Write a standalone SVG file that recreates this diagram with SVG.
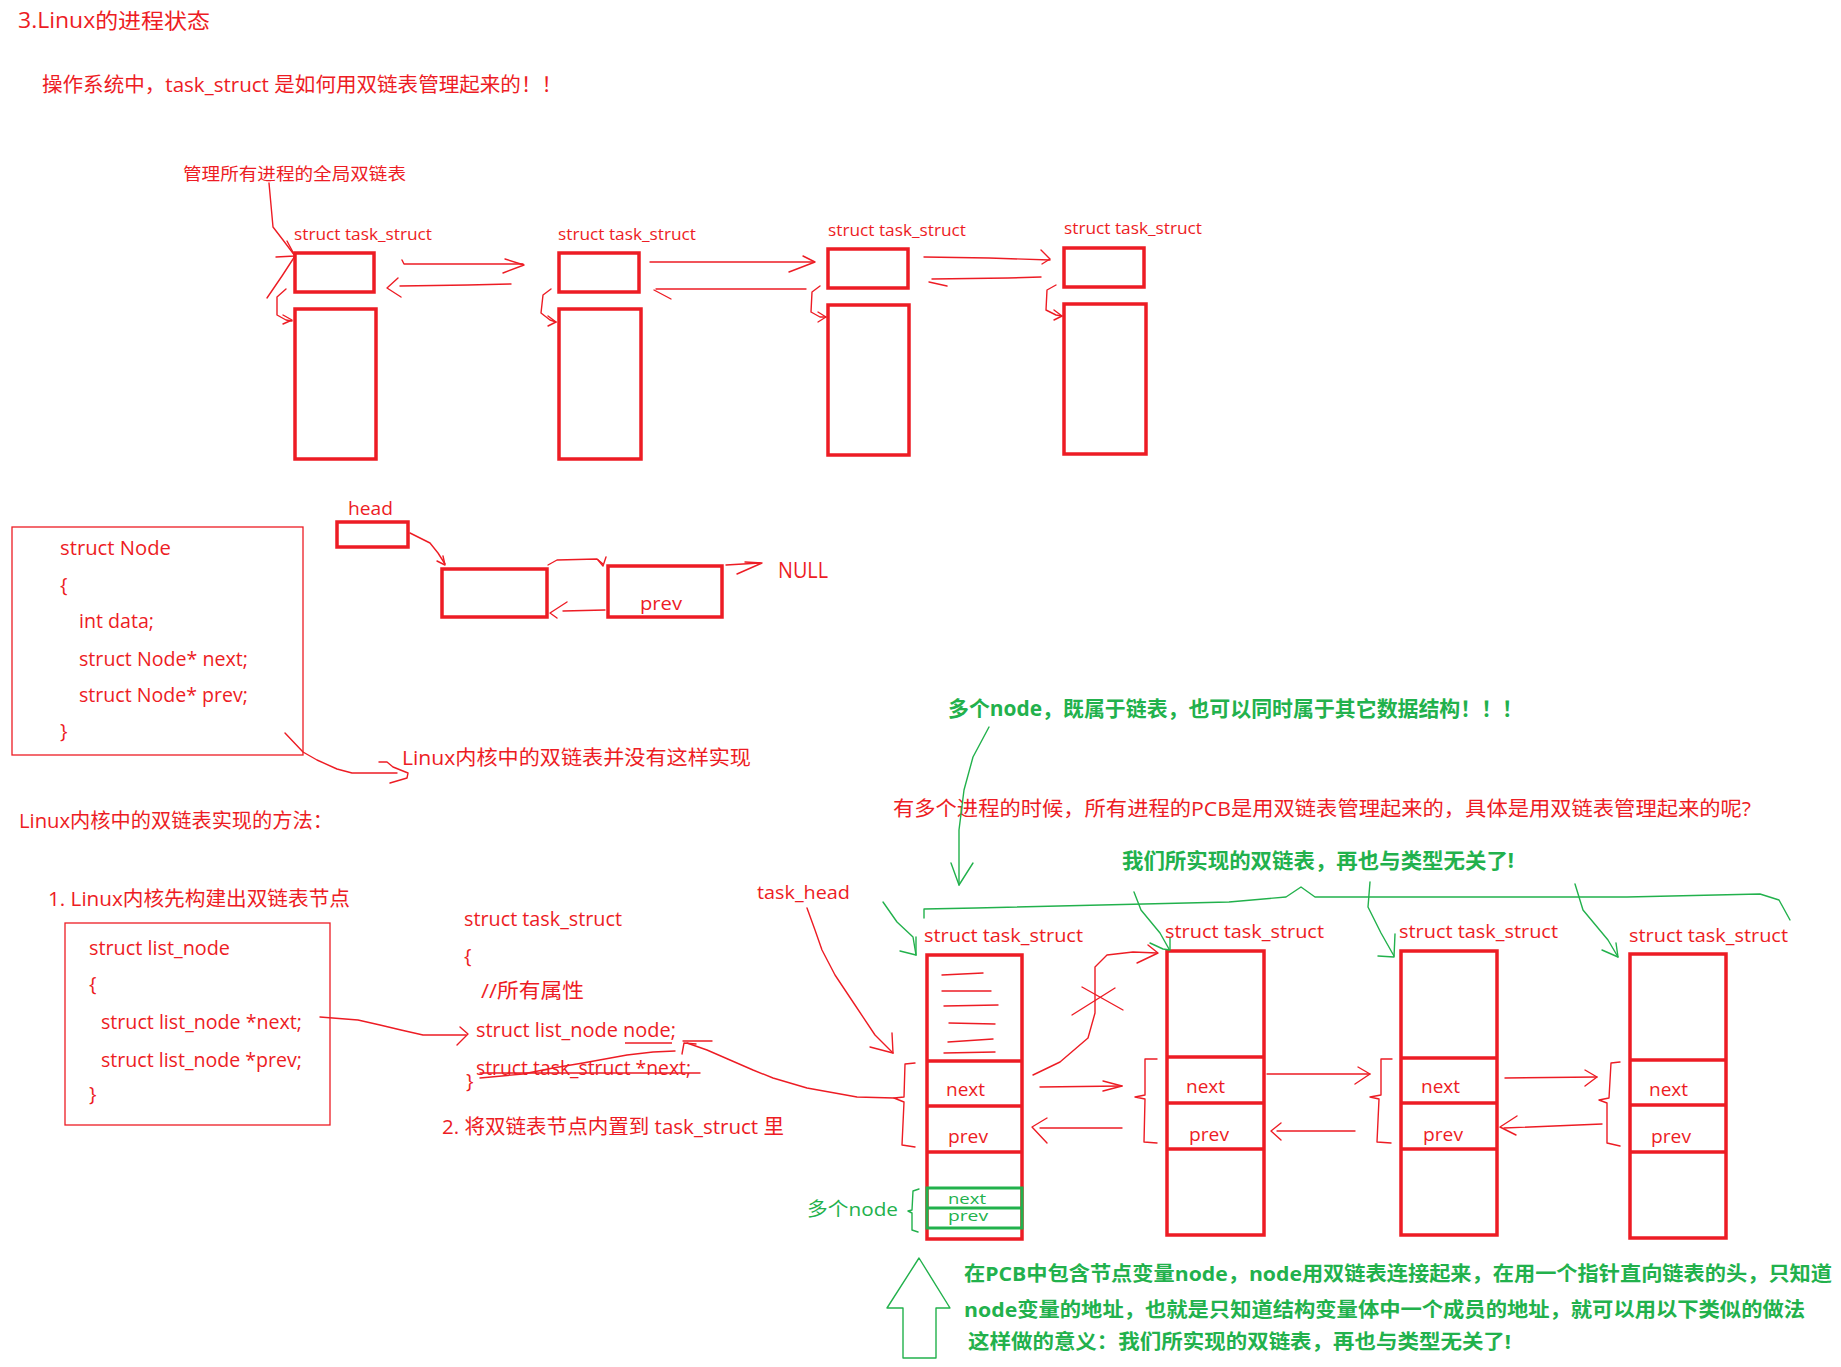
<svg xmlns="http://www.w3.org/2000/svg" width="1841" height="1367" viewBox="0 0 1841 1367">
<style>
text{font-family:"Open Sans","Noto Sans CJK SC",sans-serif;}
.r{fill:#ED1C24;}
.g{fill:#22B14C;font-weight:bold;}
.gn{fill:#22B14C;}
.box{fill:none;stroke:#ED1C24;stroke-width:3.5;}
.gbox{fill:none;stroke:#22B14C;stroke-width:3;}
.thin{fill:none;stroke:#ED1C24;stroke-width:1.4;stroke-linecap:round;stroke-linejoin:round;}
.gl{fill:none;stroke:#22B14C;stroke-width:1.4;stroke-linecap:round;stroke-linejoin:round;}
.cr{fill:none;stroke:#ED1C24;stroke-width:1.4;}
</style>
<rect x="0" y="0" width="1841" height="1367" fill="#ffffff"/>

<g id="headings">
<text class="r" x="18" y="28" font-size="21" textLength="192" lengthAdjust="spacingAndGlyphs">3.Linux的进程状态</text>
<text class="r" x="42" y="92" font-size="20" textLength="520" lengthAdjust="spacingAndGlyphs">操作系统中，task_struct 是如何用双链表管理起来的！！</text>
<text class="r" x="183" y="180" font-size="17" textLength="223" lengthAdjust="spacingAndGlyphs">管理所有进程的全局双链表</text>
</g>

<g id="top-struct-1">
<text class="r" x="294" y="240" font-size="16" textLength="138" lengthAdjust="spacingAndGlyphs">struct task_struct</text>
<rect class="box" x="295" y="253" width="79" height="39"/>
<rect class="box" x="295" y="309" width="81" height="150"/>
</g>
<g id="top-struct-2">
<text class="r" x="558" y="240" font-size="16" textLength="138" lengthAdjust="spacingAndGlyphs">struct task_struct</text>
<rect class="box" x="559" y="253" width="80" height="39"/>
<rect class="box" x="559" y="309" width="82" height="150"/>
</g>
<g id="top-struct-3">
<text class="r" x="828" y="236" font-size="16" textLength="138" lengthAdjust="spacingAndGlyphs">struct task_struct</text>
<rect class="box" x="828" y="249" width="80" height="39"/>
<rect class="box" x="828" y="305" width="81" height="150"/>
</g>
<g id="top-struct-4">
<text class="r" x="1064" y="234" font-size="16" textLength="138" lengthAdjust="spacingAndGlyphs">struct task_struct</text>
<rect class="box" x="1064" y="248" width="80" height="39"/>
<rect class="box" x="1064" y="304" width="82" height="150"/>
</g>

<g id="node-code">
<rect x="12" y="527" width="291" height="228" fill="none" stroke="#ED1C24" stroke-width="1.3"/>
<text class="r" x="60" y="555" font-size="20" textLength="111" lengthAdjust="spacingAndGlyphs">struct Node</text>
<text class="r" x="60" y="592" font-size="20">{</text>
<text class="r" x="79" y="628" font-size="20" textLength="75" lengthAdjust="spacingAndGlyphs">int data;</text>
<text class="r" x="79" y="666" font-size="20" textLength="169" lengthAdjust="spacingAndGlyphs">struct Node* next;</text>
<text class="r" x="79" y="702" font-size="20" textLength="169" lengthAdjust="spacingAndGlyphs">struct Node* prev;</text>
<text class="r" x="60" y="738" font-size="20">}</text>
</g>

<g id="head">
<text class="r" x="348" y="515" font-size="19" textLength="45" lengthAdjust="spacingAndGlyphs">head</text>
<rect class="box" x="337" y="522" width="71" height="25"/>
</g>
<g id="node-a">
<rect class="box" x="442" y="569" width="105" height="48"/>
</g>
<g id="node-b">
<rect class="box" x="608" y="566" width="114" height="51"/>
<text class="r" x="640" y="610" font-size="19" textLength="42" lengthAdjust="spacingAndGlyphs">prev</text>
</g>
<g id="null">
<text class="r" x="778" y="578" font-size="21" textLength="50" lengthAdjust="spacingAndGlyphs">NULL</text>
</g>

<g id="notes-mid">
<text class="r" x="402" y="765" font-size="20" textLength="349" lengthAdjust="spacingAndGlyphs">Linux内核中的双链表并没有这样实现</text>
<text class="r" x="19" y="828" font-size="20" textLength="314" lengthAdjust="spacingAndGlyphs">Linux内核中的双链表实现的方法：</text>
<text class="r" x="48" y="906" font-size="20" textLength="302" lengthAdjust="spacingAndGlyphs">1. Linux内核先构建出双链表节点</text>
<text class="r" x="442" y="1134" font-size="20" textLength="342" lengthAdjust="spacingAndGlyphs">2. 将双链表节点内置到 task_struct 里</text>
</g>

<g id="list-node-code">
<rect x="65" y="923" width="265" height="202" fill="none" stroke="#ED1C24" stroke-width="1.3"/>
<text class="r" x="89" y="955" font-size="20" textLength="141" lengthAdjust="spacingAndGlyphs">struct list_node</text>
<text class="r" x="89" y="991" font-size="20">{</text>
<text class="r" x="101" y="1029" font-size="20" textLength="201" lengthAdjust="spacingAndGlyphs">struct list_node *next;</text>
<text class="r" x="101" y="1067" font-size="20" textLength="201" lengthAdjust="spacingAndGlyphs">struct list_node *prev;</text>
<text class="r" x="89" y="1101" font-size="20">}</text>
</g>

<g id="task-struct-code">
<text class="r" x="464" y="926" font-size="20" textLength="158" lengthAdjust="spacingAndGlyphs">struct task_struct</text>
<text class="r" x="464" y="963" font-size="20">{</text>
<text class="r" x="481" y="998" font-size="20" textLength="103" lengthAdjust="spacingAndGlyphs">//所有属性</text>
<text class="r" x="476" y="1037" font-size="20" textLength="200" lengthAdjust="spacingAndGlyphs">struct list_node node;</text>
<line class="cr" x1="625" y1="1043" x2="672" y2="1043"/>
<text class="r" x="476" y="1075" font-size="20" textLength="215" lengthAdjust="spacingAndGlyphs">struct task_struct *next;</text>
<polyline class="thin" points="480,1073 700,1073"/>
<polyline class="thin" points="675,1051 653,1052 627,1055 583,1063 553,1068 523,1074 480,1078"/>
<text class="r" x="466" y="1088" font-size="20">}</text>
</g>

<g id="task-head">
<text class="r" x="757" y="899" font-size="19" textLength="93" lengthAdjust="spacingAndGlyphs">task_head</text>
</g>

<g id="green-notes">
<text class="g" x="948" y="716" font-size="21" textLength="575" lengthAdjust="spacingAndGlyphs">多个node，既属于链表，也可以同时属于其它数据结构！！！</text>
<text class="r" x="893" y="816" font-size="20" textLength="858" lengthAdjust="spacingAndGlyphs">有多个进程的时候，所有进程的PCB是用双链表管理起来的，具体是用双链表管理起来的呢?</text>
<text class="g" x="1122" y="868" font-size="21" textLength="392" lengthAdjust="spacingAndGlyphs">我们所实现的双链表，再也与类型无关了!</text>
<text class="g" x="964" y="1281" font-size="20" textLength="868" lengthAdjust="spacingAndGlyphs">在PCB中包含节点变量node，node用双链表连接起来，在用一个指针直向链表的头，只知道</text>
<text class="g" x="964" y="1317" font-size="20" textLength="841" lengthAdjust="spacingAndGlyphs">node变量的地址，也就是只知道结构变量体中一个成员的地址，就可以用以下类似的做法</text>
<text class="g" x="968" y="1349" font-size="20" textLength="543" lengthAdjust="spacingAndGlyphs">这样做的意义：我们所实现的双链表，再也与类型无关了!</text>
</g>

<g id="pcb-1">
<text class="r" x="924" y="942" font-size="18" textLength="159" lengthAdjust="spacingAndGlyphs">struct task_struct</text>
<rect class="box" x="927" y="955" width="95" height="284"/>
<line class="box" x1="927" y1="1061" x2="1022" y2="1061"/>
<line class="box" x1="927" y1="1106" x2="1022" y2="1106"/>
<line class="box" x1="927" y1="1152" x2="1022" y2="1152"/>
<polyline class="thin" points="942,975 983,973"/>
<polyline class="thin" points="942,991 991,991"/>
<polyline class="thin" points="944,1006 998,1005"/>
<polyline class="thin" points="949,1023 995,1024"/>
<polyline class="thin" points="948,1042 993,1039"/>
<polyline class="thin" points="944,1053 995,1052"/>
<text class="r" x="946" y="1096" font-size="19" textLength="39" lengthAdjust="spacingAndGlyphs">next</text>
<text class="r" x="948" y="1143" font-size="19" textLength="40" lengthAdjust="spacingAndGlyphs">prev</text>
<rect class="gbox" x="927" y="1188" width="95" height="40"/>
<line class="gbox" x1="927" y1="1208" x2="1022" y2="1208"/>
<text class="gn" x="948" y="1204" font-size="15" textLength="38" lengthAdjust="spacingAndGlyphs">next</text>
<text class="gn" x="948" y="1221" font-size="15" textLength="40" lengthAdjust="spacingAndGlyphs">prev</text>
<text class="gn" x="807" y="1216" font-size="19" textLength="91" lengthAdjust="spacingAndGlyphs">多个node</text>
<polyline class="gl" points="919,1189 913,1191 912,1210 908,1211 912,1213 912,1230 918,1232"/>
</g>
<g id="pcb-2">
<text class="r" x="1165" y="938" font-size="18" textLength="159" lengthAdjust="spacingAndGlyphs">struct task_struct</text>
<rect class="box" x="1167" y="951" width="97" height="284"/>
<line class="box" x1="1167" y1="1057" x2="1264" y2="1057"/>
<line class="box" x1="1167" y1="1103" x2="1264" y2="1103"/>
<line class="box" x1="1167" y1="1149" x2="1264" y2="1149"/>
<text class="r" x="1186" y="1093" font-size="19" textLength="39" lengthAdjust="spacingAndGlyphs">next</text>
<text class="r" x="1189" y="1141" font-size="19" textLength="40" lengthAdjust="spacingAndGlyphs">prev</text>
</g>
<g id="pcb-3">
<text class="r" x="1399" y="938" font-size="18" textLength="159" lengthAdjust="spacingAndGlyphs">struct task_struct</text>
<rect class="box" x="1401" y="951" width="96" height="284"/>
<line class="box" x1="1401" y1="1058" x2="1497" y2="1058"/>
<line class="box" x1="1401" y1="1103" x2="1497" y2="1103"/>
<line class="box" x1="1401" y1="1149" x2="1497" y2="1149"/>
<text class="r" x="1421" y="1093" font-size="19" textLength="39" lengthAdjust="spacingAndGlyphs">next</text>
<text class="r" x="1423" y="1141" font-size="19" textLength="40" lengthAdjust="spacingAndGlyphs">prev</text>
</g>
<g id="pcb-4">
<text class="r" x="1629" y="942" font-size="18" textLength="159" lengthAdjust="spacingAndGlyphs">struct task_struct</text>
<rect class="box" x="1630" y="954" width="96" height="284"/>
<line class="box" x1="1630" y1="1060" x2="1726" y2="1060"/>
<line class="box" x1="1630" y1="1105" x2="1726" y2="1105"/>
<line class="box" x1="1630" y1="1152" x2="1726" y2="1152"/>
<text class="r" x="1649" y="1096" font-size="19" textLength="39" lengthAdjust="spacingAndGlyphs">next</text>
<text class="r" x="1651" y="1143" font-size="19" textLength="40" lengthAdjust="spacingAndGlyphs">prev</text>
</g>

<g id="connectors">
<polyline class="thin" points="269,183 271,205 273,227 283,240 295,256 282,276 267,298"/>
<polyline class="thin" points="287,241 295,256 276,257"/>
<polyline class="thin" points="286,289 277,297 277,315 286,320 292,321"/>
<polyline class="thin" points="283,315 292,320 283,324"/>
<polyline class="thin" points="551,289 543,295 541,313 550,320 556,322"/>
<polyline class="thin" points="548,316 556,322 548,326"/>
<polyline class="thin" points="820,286 812,292 811,312 820,317 826,317"/>
<polyline class="thin" points="818,312 826,317 818,322"/>
<polyline class="thin" points="1056,285 1047,290 1046,310 1056,315 1062,316"/>
<polyline class="thin" points="1054,310 1062,316 1054,320"/>
<polyline class="thin" points="402,260 404,264 523,264"/>
<polyline class="thin" points="505,259 524,265 503,273"/>
<polyline class="thin" points="511,284 468,285 400,286"/>
<polyline class="thin" points="398,278 387,288 401,297"/>
<polyline class="thin" points="650,262 814,262"/>
<polyline class="thin" points="803,256 815,262 789,272"/>
<polyline class="thin" points="806,289 656,289"/>
<polyline class="thin" points="654,290 671,299"/>
<polyline class="thin" points="924,257 989,258 1050,260"/>
<polyline class="thin" points="1041,250 1050,259 1042,264"/>
<polyline class="thin" points="1041,277 1008,278 932,279"/>
<polyline class="thin" points="929,282 947,286"/>
<polyline class="thin" points="410,533 430,543 438,553 445,564"/>
<polyline class="thin" points="437,561 445,565 443,556"/>
<polyline class="thin" points="548,565 557,560 597,559 603,564"/>
<polyline class="thin" points="598,560 603,566 606,557"/>
<polyline class="thin" points="605,610 563,611"/>
<polyline class="thin" points="567,602 550,613 557,618"/>
<polyline class="thin" points="726,565 760,563"/>
<polyline class="thin" points="745,562 762,563 737,574"/>
<polyline class="thin" points="285,733 303,752 317,760 337,769 352,773 397,773"/>
<polyline class="thin" points="379,762 387,762 393,767 408,773 407,778 390,783"/>
<polyline class="thin" points="320,1017 358,1020 380,1025 401,1030 423,1035 466,1035"/>
<polyline class="thin" points="460,1027 468,1034 457,1045"/>
<polyline class="thin" points="683,1041 712,1041"/>
<polyline class="thin" points="687,1043 707,1050 730,1060 753,1070 773,1078 807,1088 857,1097 894,1098"/>
<polyline class="thin" points="682,1054 684,1043 696,1044"/>
<polyline class="thin" points="807,908 815,930 822,950 835,975 855,1005 875,1035 893,1053"/>
<polyline class="thin" points="870,1047 893,1053 892,1033"/>
<polyline class="thin" points="915,1063 905,1064 904,1097 894,1098 904,1102 902,1145 915,1147"/>
<polyline class="thin" points="1157,1059 1145,1059 1145,1095 1135,1097 1145,1099 1144,1142 1157,1143"/>
<polyline class="thin" points="1392,1059 1381,1059 1381,1095 1370,1097 1379,1099 1377,1142 1391,1143"/>
<polyline class="thin" points="1620,1062 1611,1063 1609,1098 1599,1100 1607,1103 1607,1143 1620,1146"/>
<polyline class="thin" points="1040,1087 1122,1086"/>
<polyline class="thin" points="1103,1081 1122,1086 1103,1091"/>
<polyline class="thin" points="1122,1128 1040,1128"/>
<polyline class="thin" points="1047,1118 1032,1127 1047,1143"/>
<polyline class="thin" points="1267,1074 1370,1074"/>
<polyline class="thin" points="1358,1067 1370,1074 1355,1084"/>
<polyline class="thin" points="1355,1131 1277,1131"/>
<polyline class="thin" points="1281,1123 1271,1131 1281,1140"/>
<polyline class="thin" points="1505,1078 1597,1077"/>
<polyline class="thin" points="1585,1070 1597,1077 1585,1086"/>
<polyline class="thin" points="1602,1124 1504,1128"/>
<polyline class="thin" points="1517,1116 1500,1127 1516,1135"/>
<polyline class="thin" points="1033,1075 1060,1062 1088,1038 1095,1013 1095,967 1107,955 1133,952 1157,953"/>
<polyline class="thin" points="1148,945 1158,953 1137,963"/>
<polyline class="thin" points="1082,987 1123,1010"/>
<polyline class="thin" points="1072,1015 1115,988"/>
<polyline class="gl" points="989,727 973,757 964,790 959,830 959,885"/>
<polyline class="gl" points="951,863 959,885 973,863"/>
<polyline class="gl" points="924,918 924,909 976,908 1229,902 1286,897 1301,887 1315,897 1482,897 1627,897 1760,894 1779,900 1790,920"/>
<polyline class="gl" points="883,902 897,922 913,937 916,955"/>
<polyline class="gl" points="900,951 916,955 916,937"/>
<polyline class="gl" points="1134,892 1141,910 1160,933 1169,949"/>
<polyline class="gl" points="1150,943 1163,949 1170,950 1170,938"/>
<polyline class="gl" points="1370,882 1368,907 1381,933 1394,956"/>
<polyline class="gl" points="1378,956 1394,957 1395,934"/>
<polyline class="gl" points="1575,884 1583,910 1608,940 1618,957"/>
<polyline class="gl" points="1602,950 1618,957 1616,943"/>
<polygon class="gl" points="919,1258 950,1308 936,1308 936,1358 903,1358 903,1308 887,1308"/>
</g>
</svg>
